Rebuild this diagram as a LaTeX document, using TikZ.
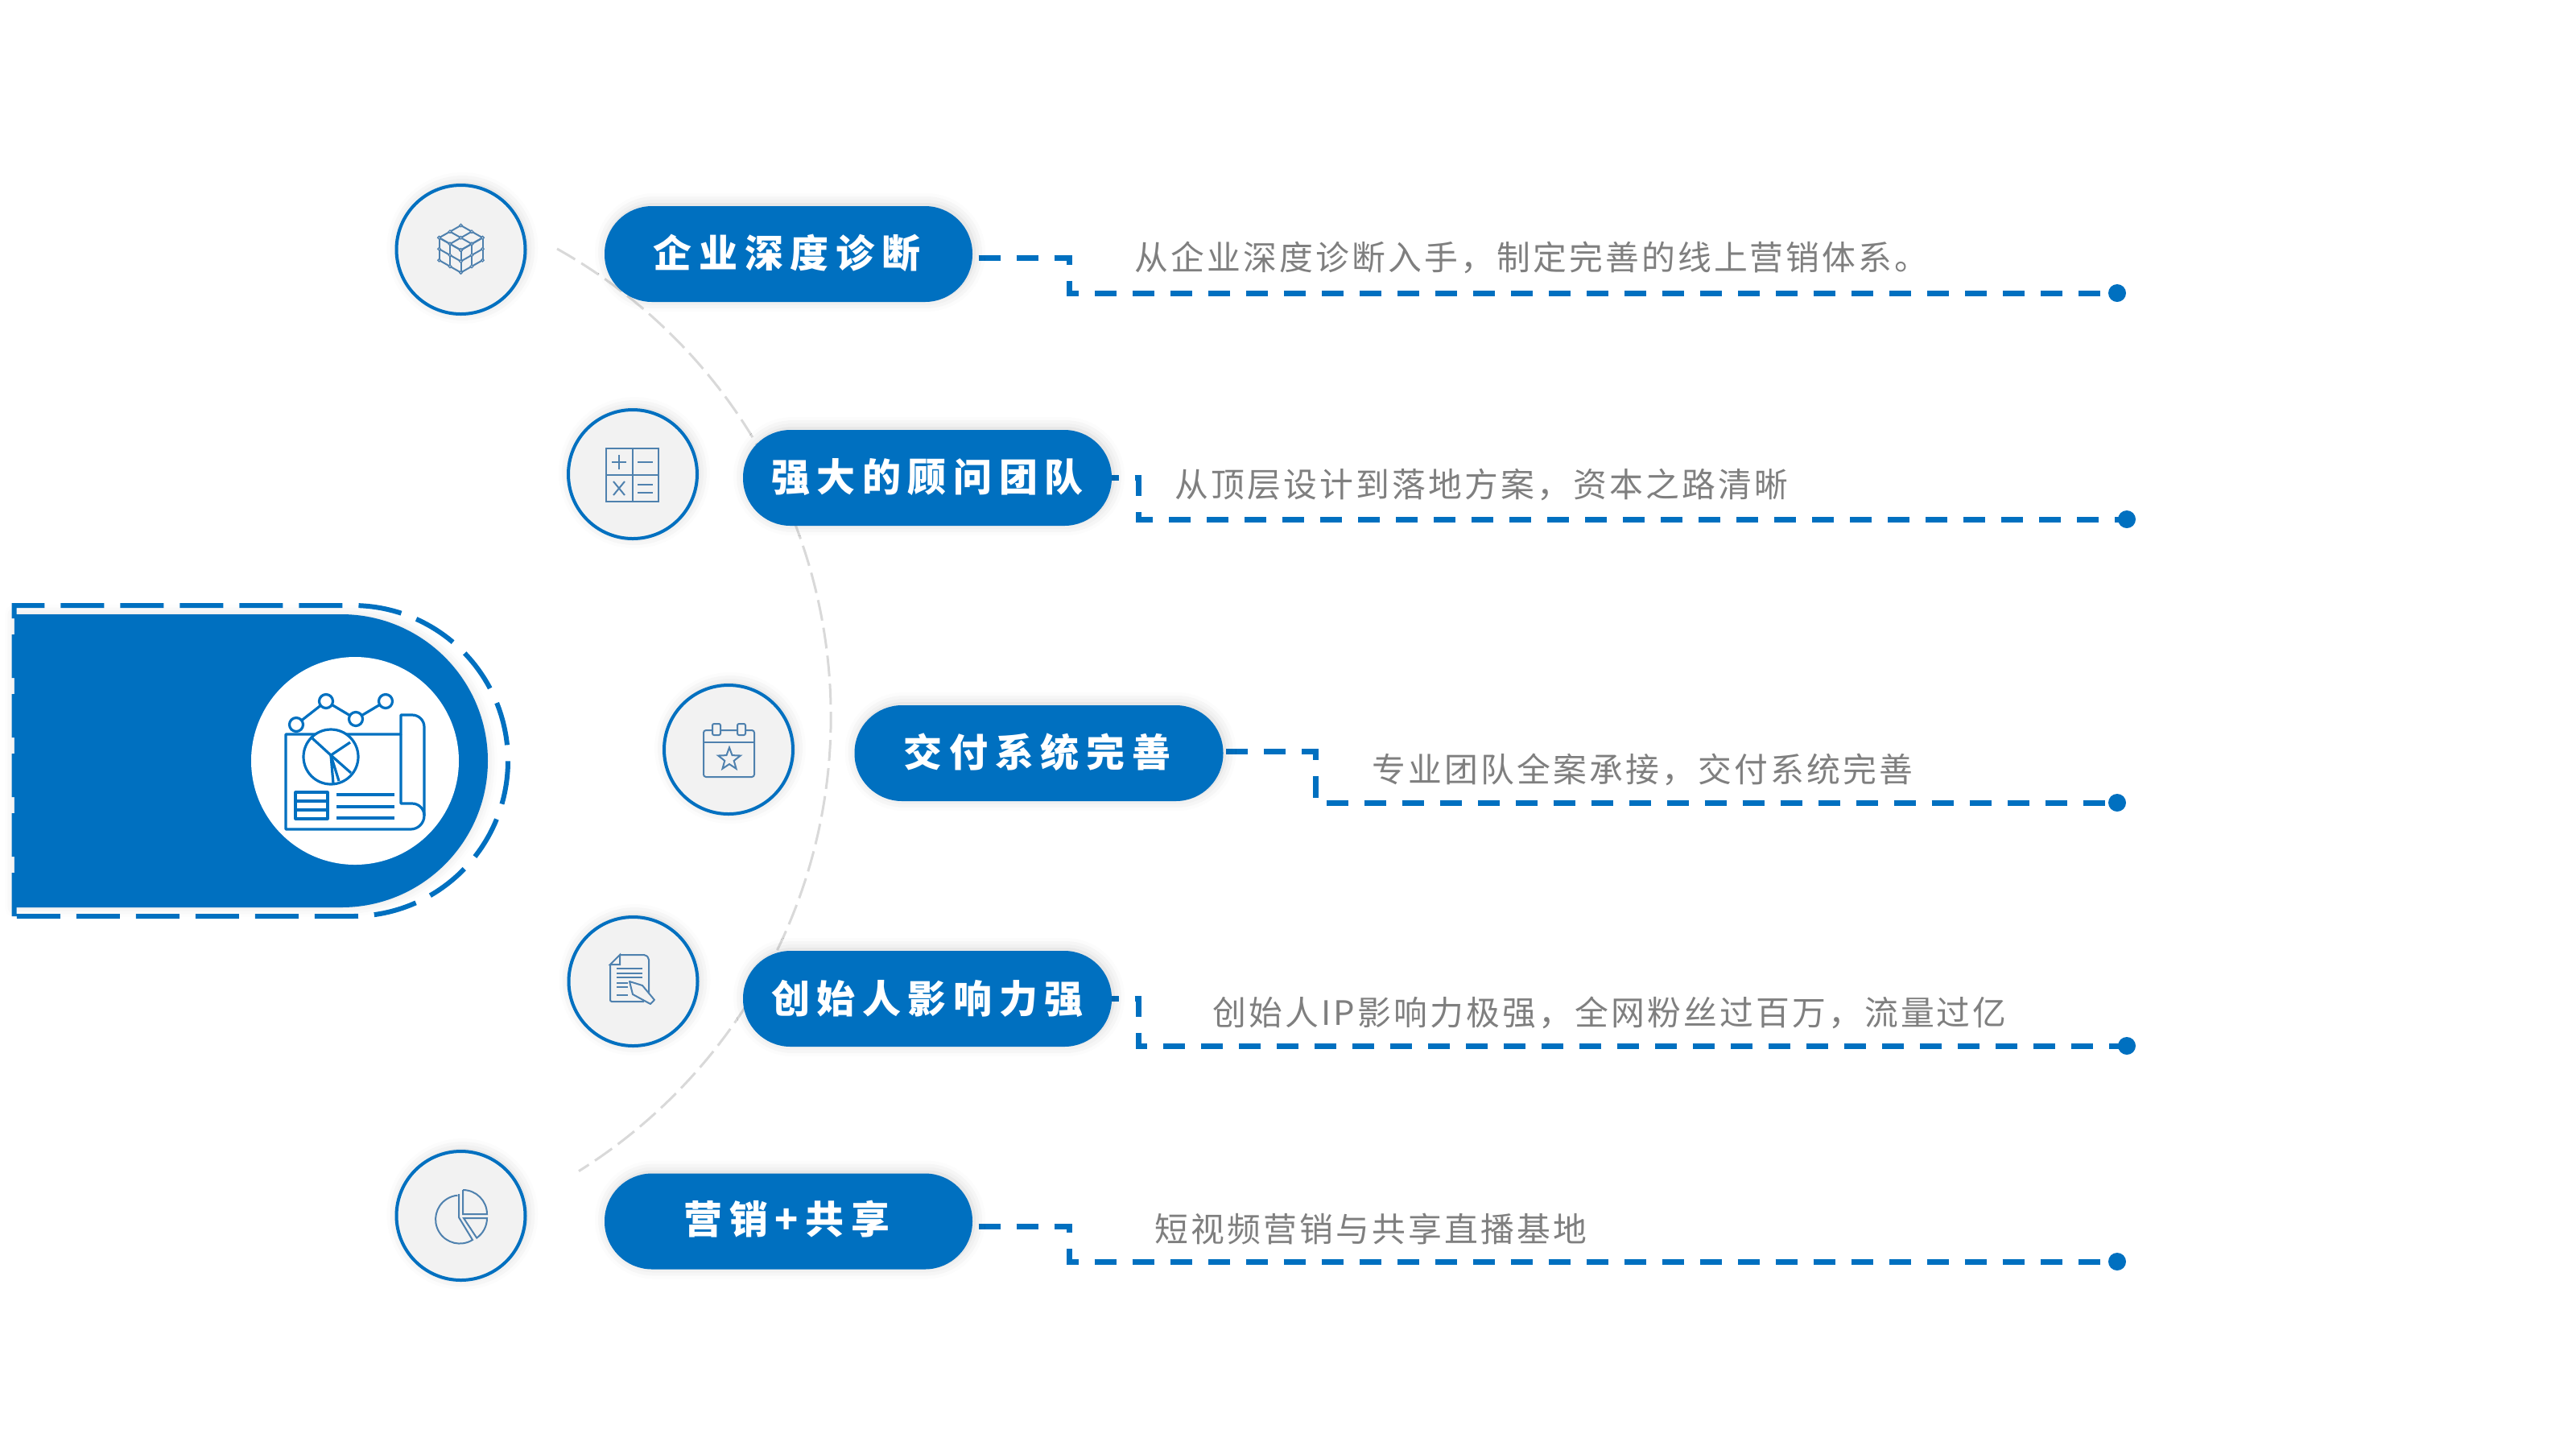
\documentclass[tikz,border=0pt]{standalone}
\usepackage{fontspec}
\usepackage{xcolor}
\usetikzlibrary{positioning,calc,backgrounds,shapes.geometric,shadows.blur}
\newfontfamily\pillfont[LetterSpace=18]{Noto Sans CJK SC}
\newfontfamily\descfont[LetterSpace=7.5]{Noto Sans CJK SC}
\definecolor{mainblue}{HTML}{0070C0}
\definecolor{iconblue}{HTML}{4F81AE}
\definecolor{descgray}{HTML}{7F7F7F}
\definecolor{arcgray}{HTML}{D9D9D9}
\definecolor{roundgray}{HTML}{F2F2F2}
\tikzset{
	softshadow/.style={blur shadow={shadow xshift=0.02cm,shadow yshift=0.02cm,shadow blur radius=0.14cm,shadow opacity=18}},
	roundicon/.style={circle,minimum size=1.6cm,inner sep=0pt,draw=mainblue,line width=0.04cm,fill=roundgray,softshadow},
	pillbox/.style={rectangle,rounded corners=0.59cm,minimum width=4.58cm,minimum height=1.19cm,inner sep=0pt,fill=mainblue,text=white,font=\pillfont\bfseries\fontsize{13.65}{15}\selectfont,softshadow},
	desctext/.style={anchor=west,inner sep=0pt,text=descgray,font=\descfont\fontsize{11.9}{14}\selectfont},
	dashline/.style={draw=mainblue,line width=0.07cm,dash pattern=on 0.27cm off 0.2cm},
	enddot/.style={circle,fill=mainblue,minimum size=0.22cm,inner sep=0pt},
	iconline/.style={draw=iconblue,line width=0.02cm},
	bigline/.style={draw=mainblue,line width=0.032cm,line join=round}
}
\begin{document}
\begin{tikzpicture}
	\useasboundingbox (0,0) rectangle (32,-18);

	% left block
	\fill[mainblue,blur shadow={shadow xshift=0cm,shadow yshift=0cm,shadow blur radius=0.12cm,shadow opacity=12}] (0.18,-7.63) -- (4.24,-7.63) arc[start angle=90,end angle=-90,radius=1.82] -- (0.18,-11.27) -- cycle;
	\draw[mainblue,line width=0.06cm,dash pattern=on 0.54cm off 0.2cm] (0.175,-11.38) -- (0.175,-7.52) -- (4.38,-7.52) arc[start angle=90,end angle=-90,radius=1.93] -- (0.175,-11.38);
	\node[circle,fill=white,minimum size=2.58cm,inner sep=0pt] (hub) at (4.41,-9.45) {};

	% pills
	\node[pillbox,minimum width=4.57cm] (pill1) at (9.795,-3.155) {\hspace{-0.04cm}\raisebox{0.08cm}{企业深度诊断}};
	\node[pillbox] (pill2) at (11.52,-5.935) {\raisebox{0.07cm}{强大的顾问团队}};
	\node[pillbox] (pill3) at (12.905,-9.355) {\hspace{-0.04cm}\raisebox{0.07cm}{交付系统完善}};
	\node[pillbox] (pill4) at (11.52,-12.405) {\raisebox{0.05cm}{创始人影响力强}};
	\node[pillbox,minimum width=4.57cm] (pill5) at (9.795,-15.17) {\hspace{-0.04cm}\raisebox{0.1cm}{营销+共享}};

	% round icons
	\node[roundicon] (icon1) at (5.725,-3.1) {};
	\node[roundicon] (icon2) at (7.86,-5.89) {};
	\node[roundicon] (icon3) at (9.05,-9.31) {};
	\node[roundicon] (icon4) at (7.865,-12.19) {};
	\node[roundicon] (icon5) at (5.725,-15.1) {};

	% texts
	\node[desctext] (txt1) at (14.09,-3.2) {从企业深度诊断入手，制定完善的线上营销体系。};
	\node[desctext] (txt2) at (14.59,-6.02) {从顶层设计到落地方案，资本之路清晰};
	\node[desctext] (txt3) at (17.04,-9.56) {专业团队全案承接，交付系统完善};
	\node[desctext] (txt4) at (15.06,-12.58) {创始人IP影响力极强，全网粉丝过百万，流量过亿};
	\node[desctext] (txt5) at (14.34,-15.26) {短视频营销与共享直播基地};

	% end dots
	\node[enddot] (dot1) at (26.3,-3.64) {};
	\node[enddot] (dot2) at (26.42,-6.45) {};
	\node[enddot] (dot3) at (26.3,-9.97) {};
	\node[enddot] (dot4) at (26.42,-12.99) {};
	\node[enddot] (dot5) at (26.3,-15.67) {};

	% things behind the pills
	\begin{scope}[on background layer]
		\draw[arcgray,line width=0.03cm,dash pattern=on 0.26cm off 0.09cm] (6.92,-3.09) arc[start angle=60.7,end angle=-58,radius=6.66];
		\draw[dashline] ($(pill1.east)+(0.07,-0.05)$) -- ++(1.13,0) |- (dot1.center);
		\draw[dashline] ($(pill2.east)+(-0.19,0)$) -- ++(0.52,0) |- (dot2.center);
		\draw[dashline] ($(pill3.east)+(0.03,0.02)$) -- ++(1.11,0) |- (dot3.center);
		\draw[dashline] ($(pill4.east)+(-0.19,0)$) -- ++(0.52,0) |- (dot4.center);
		\draw[dashline] ($(pill5.east)+(0.07,-0.06)$) -- ++(1.13,0) |- (dot5.center);
	\end{scope}

	% hub icon
	\begin{scope}[shift={(-0.03,0)}]
		\draw[bigline] (3.58,-9.12) -- (5.01,-9.12) -- (5.01,-8.88) -- (5.15,-8.88) arc[start angle=90,end angle=0,radius=0.15] -- (5.3,-10.13) arc[start angle=0,end angle=-90,radius=0.17] -- (3.58,-10.3) -- cycle;
		\draw[bigline] (5.01,-9.12) -- (5.01,-9.98) -- (5.15,-9.98) arc[start angle=90,end angle=0,radius=0.15];
		\draw[bigline] (3.71,-9) -- (4.08,-8.71) -- (4.45,-8.93) -- (4.82,-8.71);
		\draw[bigline,fill=white] (3.71,-9) circle (0.085);
		\draw[bigline,fill=white] (4.08,-8.71) circle (0.085);
		\draw[bigline,fill=white] (4.45,-8.93) circle (0.085);
		\draw[bigline,fill=white] (4.82,-8.71) circle (0.085);
		\draw[bigline,fill=white] (4.14,-9.4) circle (0.34);
		\draw[bigline] (3.91,-9.17) -- (4.14,-9.38) -- (4.38,-9.22);
		\draw[bigline] (4.14,-9.38) -- (4.39,-9.6);
		\draw[bigline] (4.14,-9.38) -- (4.17,-9.73);
		\draw[bigline] (4.14,-9.38) -- (4.24,-9.7);
		\draw[bigline] (3.7,-9.84) rectangle (4.1,-10.17);
		\draw[bigline] (3.7,-9.95) -- (4.1,-9.95);
		\draw[bigline] (3.7,-10.06) -- (4.1,-10.06);
		\draw[bigline] (4.21,-9.87) -- (4.93,-9.87);
		\draw[bigline] (4.21,-10.02) -- (4.93,-10.02);
		\draw[bigline] (4.21,-10.16) -- (4.93,-10.16);
	\end{scope}

	% cube
	\begin{scope}[shift={(5.725,-2.8)},scale=0.9,iconline]
		\foreach \i in {0,1,2} {
			\draw ({0.15*\i},{-0.085*\i}) -- ({0.15*\i-0.3},{-0.085*\i-0.17});
			\draw ({-0.15*\i},{-0.085*\i}) -- ({-0.15*\i+0.3},{-0.085*\i-0.17});
			\draw ({-0.15*\i},{-0.34+0.085*\i}) -- ({-0.15*\i},{-0.34+0.085*\i-0.31});
			\draw ({0.15*\i},{-0.34+0.085*\i}) -- ({0.15*\i},{-0.34+0.085*\i-0.31});
			\draw (-0.3,{-0.17-0.155*\i}) -- (0,{-0.34-0.155*\i}) -- (0.3,{-0.17-0.155*\i});
		}
		\foreach \i in {0,1,2} {\foreach \j in {0,1,2} {
			\fill[roundgray,draw=iconblue,line width=0.012cm] ({0.15*\i-0.15*\j},{-0.085*\i-0.085*\j}) circle (0.02);
			\fill[roundgray,draw=iconblue,line width=0.012cm] ({-0.15*\i},{-0.34+0.085*\i-0.155*\j}) circle (0.02);
			\fill[roundgray,draw=iconblue,line width=0.012cm] ({0.15*\i},{-0.34+0.085*\i-0.155*\j}) circle (0.02);
		}}
	\end{scope}

	% calculator
	\draw[iconline] (7.53,-5.57) rectangle (8.18,-6.23);
	\draw[iconline] (7.855,-5.57) -- (7.855,-6.23);
	\draw[iconline] (7.53,-5.9) -- (8.18,-5.9);
	\draw[iconline] (7.6,-5.74) -- (7.78,-5.74);
	\draw[iconline] (7.69,-5.65) -- (7.69,-5.83);
	\draw[iconline] (7.92,-5.74) -- (8.11,-5.74);
	\draw[iconline] (7.62,-5.98) -- (7.76,-6.15);
	\draw[iconline] (7.76,-5.98) -- (7.62,-6.15);
	\draw[iconline] (7.92,-6.02) -- (8.11,-6.02);
	\draw[iconline] (7.92,-6.12) -- (8.11,-6.12);

	% calendar
	\draw[iconline,rounded corners=0.03cm] (8.74,-9.07) rectangle (9.37,-9.65);
	\draw[iconline] (8.74,-9.22) -- (9.37,-9.22);
	\draw[iconline,rounded corners=0.02cm,fill=roundgray] (8.85,-8.99) rectangle (8.95,-9.13);
	\draw[iconline,rounded corners=0.02cm,fill=roundgray] (9.16,-8.99) rectangle (9.26,-9.13);
	\node[star,star points=5,star point ratio=2.4,iconline,minimum size=0.29cm,inner sep=0pt] (calstar) at (9.06,-9.43) {};

	% document
	\draw[iconline,rounded corners=0.02cm] (7.7,-11.86) -- (8.02,-11.86) -- (8.06,-11.9) -- (8.06,-12.38);
	\draw[iconline,rounded corners=0.02cm] (8,-12.44) -- (7.58,-12.44) -- (7.58,-11.98);
	\draw[iconline] (7.58,-11.98) -- (7.7,-11.86) -- (7.7,-11.98) -- cycle;
	\draw[iconline] (7.66,-12.03) -- (7.98,-12.03);
	\draw[iconline] (7.66,-12.09) -- (7.98,-12.09);
	\draw[iconline] (7.66,-12.14) -- (7.98,-12.14);
	\draw[iconline] (7.66,-12.21) -- (7.8,-12.21);
	\draw[iconline] (7.66,-12.26) -- (7.8,-12.26);
	\draw[iconline] (7.66,-12.36) -- (7.8,-12.36);
	\draw[iconline,fill=roundgray,line join=round] (7.82,-12.19) -- (7.98,-12.24) -- (8.13,-12.42) -- (8.08,-12.47) -- (7.86,-12.35) -- cycle;

	% pie
	\draw[iconline] (5.7,-14.83) -- (5.7,-15.12) -- (5.87,-15.4) arc[start angle=-58,end angle=-265,radius=0.3];
	\draw[iconline] (5.75,-14.78) -- (5.75,-15.08) -- (6.05,-15.08) arc[start angle=0,end angle=90,radius=0.3];
	\draw[iconline] (5.76,-15.13) -- (6.05,-15.13) arc[start angle=0,end angle=-55,radius=0.3] -- cycle;
\end{tikzpicture}
\end{document}
